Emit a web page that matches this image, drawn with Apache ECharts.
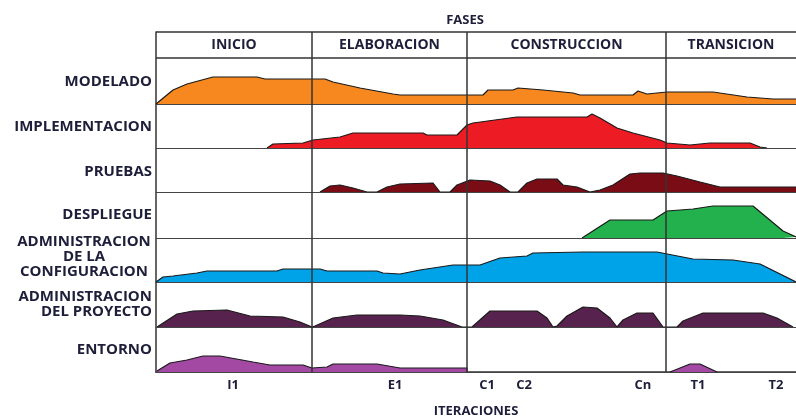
<!DOCTYPE html>
<html>
<head>
<meta charset="utf-8">
<script src="https://cdn.jsdelivr.net/npm/echarts@6/dist/echarts.min.js"></script>
<style>
  html, body { margin: 0; padding: 0; background: #fff; }
  #chart { width: 796px; height: 419px; }
</style>
</head>
<body>
<div id="chart"></div>
<script>
// fases y limites (eje de tiempo 0..640)
const phases = ["INICIO", "ELABORACION", "CONSTRUCCION", "TRANSICION"];
const phaseBounds = [0, 156, 311, 510, 640];
// iteraciones
const iterLabels = ["I1", "E1", "C1", "C2", "Cn", "T1", "T2"];
const iterPos = [77, 239, 331, 368, 487, 542, 620];

// disciplinas: [tiempo, esfuerzo]
const modelado = [[0,0],[17,14],[31,20],[57,27],[101,27],[109,25],[169,25],[177,22],[204,16],[237,10],[244,9],[327,9],[332,14],[357,14],[362,16],[387,14],[417,11],[424,9],[477,9],[482,13],[491,10],[511,12],[557,12],[591,7],[617,5],[640,5]];
const implementacion = [[111,0],[117,4],[147,5],[157,8],[184,11],[197,15],[267,15],[271,13],[301,13],[311,23],[317,25],[361,31],[431,31],[436,34],[444,30],[461,20],[477,15],[504,8],[511,5],[534,3],[554,5],[594,5],[604,1],[611,0]];
const pruebas = [[164,0],[174,6],[184,7],[197,4],[211,0],[221,0],[231,5],[244,8],[277,9],[284,0],[294,0],[301,7],[314,12],[334,11],[344,7],[354,0],[362,0],[371,9],[381,13],[401,13],[407,7],[421,5],[434,0],[444,2],[457,7],[474,18],[484,19],[507,19],[521,16],[544,10],[564,5],[640,5]];
const despliegue = [[426,0],[454,18],[497,18],[511,27],[537,29],[557,32],[597,32],[627,7],[640,1]];
const adminConfig = [[0,0],[7,5],[17,6],[41,9],[51,11],[121,11],[127,13],[164,13],[171,11],[221,11],[227,9],[244,8],[264,12],[297,17],[324,17],[344,24],[371,26],[377,29],[427,30],[501,30],[537,23],[577,22],[604,18],[640,0]];
const adminProyecto = [[1,0],[21,13],[37,16],[71,17],[94,11],[127,10],[144,5],[156,0],[159,1],[177,9],[201,12],[244,12],[264,11],[287,7],[306,0],[316,0],[334,16],[381,16],[391,9],[397,0],[401,1],[411,11],[427,20],[441,19],[454,9],[461,0],[467,7],[481,14],[497,14],[507,0],[521,0],[527,6],[547,14],[607,14],[621,9],[637,0]];
const entornoA = [[1,1],[14,9],[31,12],[47,16],[64,16],[97,10],[114,7],[147,7],[156,4],[171,5],[177,8],[221,8],[244,4],[311,4],[311,0]];
const entornoB = [[514,0],[534,8],[544,8],[561,0]];

const rows = [
  { name: "MODELADO", data: [modelado], color: "#f7881f" },
  { name: "IMPLEMENTACION", data: [implementacion], color: "#ed1c24" },
  { name: "PRUEBAS", data: [pruebas], color: "#7a0c16" },
  { name: "DESPLIEGUE", data: [despliegue], color: "#22b14c" },
  { name: "ADMINISTRACION\nDE LA\nCONFIGURACION", data: [adminConfig], color: "#00a2e8" },
  { name: "ADMINISTRACION\nDEL PROYECTO", data: [adminProyecto], color: "#58224f" },
  { name: "ENTORNO", data: [entornoA, entornoB], color: "#a349a4" }
];
const rowTops = [58, 104, 148, 192, 238, 282, 327];
const rowHeights = [46, 44, 44, 46, 44, 45, 45];

const textColor = "#1e1e3a";
const font = "Open Sans";

const chart = echarts.init(document.getElementById("chart"));

let grid = [{ left: 156, right: 0, top: 32, height: 340, outerBoundsMode: "none" }];
let xAxis = [{
  gridIndex: 0, type: "value", min: 0, max: 640,
  axisLine: { show: true, lineStyle: { color: "#333", width: 1.5 } },
  axisTick: { show: false },
  splitLine: { show: false },
  axisLabel: {
    customValues: iterPos,
    formatter: v => iterLabels[iterPos.indexOf(v)],
    margin: 13, verticalAlign: "middle",
    fontSize: 13, fontWeight: "bold", fontFamily: font, color: textColor
  },
  name: "ITERACIONES", nameLocation: "middle", nameGap: 33,
  nameTextStyle: { fontSize: 13, fontWeight: "bold", fontFamily: font, color: textColor }
}];
let yAxis = [{
  gridIndex: 0, type: "value", min: 0, max: 340,
  axisLine: { show: true, lineStyle: { color: "#333", width: 1.5 } },
  axisTick: { show: false }, axisLabel: { show: false }, splitLine: { show: false }
}];

let series = [{
  type: "line", xAxisIndex: 0, yAxisIndex: 0, data: [], z: 10,
  markLine: {
    silent: true, symbol: "none", label: { show: false },
    lineStyle: { color: "#333", width: 1.5, type: "solid" },
    data: [
      { xAxis: phaseBounds[1] }, { xAxis: phaseBounds[2] }, { xAxis: phaseBounds[3] },
      { yAxis: 314 }, { yAxis: 340 }
    ]
  },
  markArea: {
    silent: true,
    itemStyle: { color: "rgba(0,0,0,0)" },
    label: {
      show: true, position: "inside", fontSize: 14, fontWeight: "bold",
      fontFamily: font, color: textColor
    },
    data: phases.map((p, i) => [
      { name: p, xAxis: phaseBounds[i], yAxis: 314 },
      { xAxis: phaseBounds[i + 1], yAxis: 340 }
    ])
  }
}];

rows.forEach((row, i) => {
  grid.push({ left: 156, right: 0, top: rowTops[i], height: rowHeights[i], outerBoundsMode: "none" });
  xAxis.push({
    gridIndex: i + 1, type: "value", min: 0, max: 640,
    axisLine: { show: true, lineStyle: { color: "#444", width: 1 } },
    axisTick: { show: false }, axisLabel: { show: false }, splitLine: { show: false }
  });
  yAxis.push({ gridIndex: i + 1, type: "value", min: 0, max: rowHeights[i], show: false });
  row.data.forEach(d => {
    series.push({
      type: "line", xAxisIndex: i + 1, yAxisIndex: i + 1,
      data: d, symbol: "none", silent: true,
      lineStyle: { color: "#1a1a1a", width: 1.2 },
      areaStyle: { color: row.color, opacity: 1 }
    });
  });
});

// etiquetas de disciplinas
const labelPos = [
  { y: 82, x: 152, align: "right" },
  { y: 127, x: 152, align: "right" },
  { y: 172, x: 152, align: "right" },
  { y: 215, x: 152, align: "right" },
  { y: 257, x: 84, align: "center" },
  { y: 304, x: 152, align: "right" },
  { y: 350, x: 152, align: "right" }
];
const graphic = rows.map((row, i) => ({
  type: "text",
  x: labelPos[i].x, y: labelPos[i].y,
  style: {
    text: row.name, align: labelPos[i].align, verticalAlign: "middle",
    fontSize: 15, fontWeight: "bold", fontFamily: font, fill: textColor, lineHeight: 15
  }
}));
graphic.push({
  type: "text", x: 465, y: 20,
  style: {
    text: "FASES", align: "center", verticalAlign: "middle",
    fontSize: 13, fontWeight: "bold", fontFamily: font, fill: textColor
  }
});

chart.setOption({
  animation: false,
  grid, xAxis, yAxis, series, graphic
});
</script>
</body>
</html>
